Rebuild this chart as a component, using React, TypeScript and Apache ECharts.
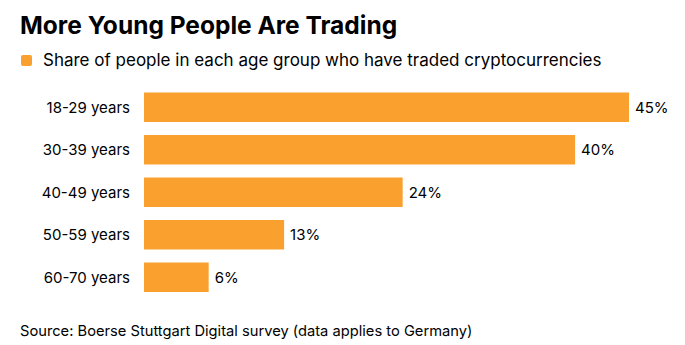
import React, { useEffect, useRef } from "react";
import * as echarts from "echarts";

const categories = ["18-29 years", "30-39 years", "40-49 years", "50-59 years", "60-70 years"];
const shares = [45, 40, 24, 13, 6];

const titleText = "More Young People Are Trading";
const legendText = "Share of people in each age group who have traded cryptocurrencies";
const sourceText = "Source: Boerse Stuttgart Digital survey (data applies to Germany)";

const ORANGE = "#F9A02E";
const FONT = "Inter, 'Liberation Sans', Arial, sans-serif";

export default function App() {
  const ref = useRef<HTMLDivElement>(null);

  useEffect(() => {
    if (!ref.current) return;
    const chart = echarts.init(ref.current, null, { renderer: "svg" });
    chart.setOption({
      animation: false,
      backgroundColor: "#ffffff",
      grid: { left: 144, right: 56, top: 86, height: 212.5, containLabel: false },
      xAxis: {
        type: "value",
        min: 0,
        max: 45,
        show: false,
      },
      yAxis: {
        type: "category",
        data: categories,
        inverse: true,
        axisLine: { show: false },
        axisTick: { show: false },
        splitLine: { show: false },
        axisLabel: {
          margin: 14,
          color: "#000000",
          fontSize: 15,
          fontFamily: FONT,
        },
      },
      series: [
        {
          type: "bar",
          data: shares,
          barWidth: 29.5,
          itemStyle: { color: ORANGE },
          label: {
            show: true,
            position: "right",
            distance: 6,
            formatter: "{c}%",
            color: "#000000",
            fontSize: 15,
            fontFamily: FONT,
          },
        },
      ],
      graphic: [
        {
          type: "text",
          left: 20,
          top: 12,
          style: {
            text: titleText,
            fill: "#000000",
            font: `bold 24.5px ${FONT}`,
          },
        },
        {
          type: "rect",
          shape: { x: 21, y: 55, width: 11, height: 11, r: 2 },
          style: { fill: ORANGE },
        },
        {
          type: "text",
          left: 43,
          top: 51,
          style: {
            text: legendText,
            fill: "#000000",
            font: `17px ${FONT}`,
          },
        },
        {
          type: "text",
          left: 20,
          top: 323,
          style: {
            text: sourceText,
            fill: "#000000",
            font: `14.7px ${FONT}`,
          },
        },
      ],
    });
    return () => chart.dispose();
  }, []);

  return <div ref={ref} style={{ width: 685, height: 345, position: "absolute", left: 0, top: 0 }} />;
}
